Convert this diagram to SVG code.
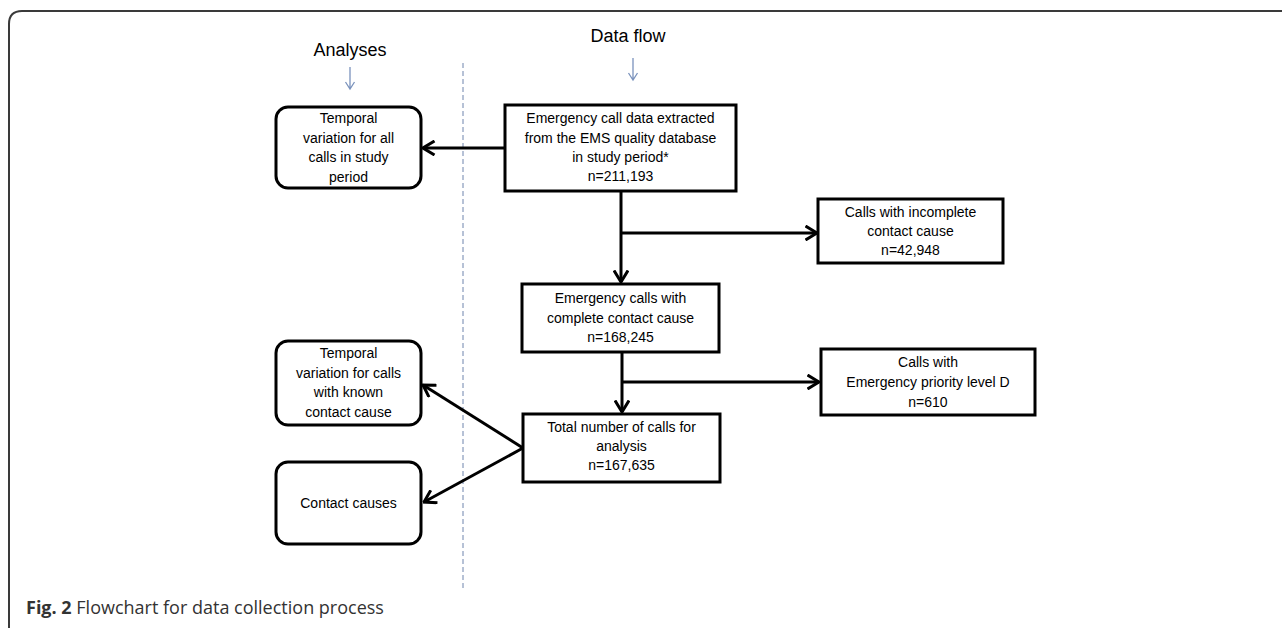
<svg xmlns="http://www.w3.org/2000/svg" width="1282" height="628" viewBox="0 0 1282 628">
<defs>
<style>
.box{fill:#fff;stroke:#000;stroke-width:3}
.t{font-family:"Liberation Sans",Arial,sans-serif;font-size:14px;fill:#000;text-anchor:middle}
.h{font-family:"Liberation Sans",Arial,sans-serif;font-size:18px;fill:#000;text-anchor:middle}
.c{fill:none;stroke:#000;stroke-width:3}
.sa{fill:none;stroke:#7b93bd;stroke-width:1.3}
.cap{font-family:"Open Sans","Liberation Sans",sans-serif;font-size:18px;fill:#333}
</style>
<marker id="arr" viewBox="0 0 14 16" refX="12.5" refY="8" markerWidth="14" markerHeight="16" markerUnits="userSpaceOnUse" orient="auto">
<path d="M1,1 L12.5,8 L1,15" fill="none" stroke="#000" stroke-width="3"/>
</marker>
</defs>
<rect width="1282" height="628" fill="#fff"/>
<g id="frame">
<path d="M9,628 L9,24 Q9,11 22,11 L1282,11" fill="none" stroke="#3a3a3a" stroke-width="2"/>
</g>
<g id="headers">
<text class="h" x="350" y="56">Analyses</text>
<text class="h" x="628" y="42">Data flow</text>
<path class="sa" d="M350,67 L350,89 M345.5,82 L350,89 L354.5,82"/>
<path class="sa" d="M633,58 L633,80 M628.5,73 L633,80 L637.5,73"/>
<line x1="463" y1="63" x2="463" y2="588" stroke="#6f84ad" stroke-width="1" stroke-dasharray="5,3"/>
</g>
<g id="connectors">
<line class="c" x1="505" y1="148" x2="423" y2="148" marker-end="url(#arr)"/>
<line class="c" x1="621" y1="192" x2="621" y2="282" marker-end="url(#arr)"/>
<line class="c" x1="621" y1="233" x2="817" y2="233" marker-end="url(#arr)"/>
<line class="c" x1="622" y1="352" x2="622" y2="412" marker-end="url(#arr)"/>
<line class="c" x1="622" y1="382" x2="819" y2="382" marker-end="url(#arr)"/>
<line class="c" x1="523" y1="448" x2="423" y2="385" marker-end="url(#arr)"/>
<line class="c" x1="523" y1="448" x2="424" y2="502" marker-end="url(#arr)"/>
</g>
<g id="n1">
<rect class="box" x="276" y="107" width="145" height="81" rx="12"/>
<text class="t" x="348.5" y="123">Temporal</text>
<text class="t" x="348.5" y="143">variation for all</text>
<text class="t" x="348.5" y="162">calls in study</text>
<text class="t" x="348.5" y="182">period</text>
</g>
<g id="n2">
<rect class="box" x="505" y="105" width="231" height="86"/>
<text class="t" x="620.5" y="123">Emergency call data extracted</text>
<text class="t" x="620.5" y="143">from the EMS quality database</text>
<text class="t" x="620.5" y="162">in study period*</text>
<text class="t" x="620.5" y="181">n=211,193</text>
</g>
<g id="n3">
<rect class="box" x="818" y="199" width="185" height="64"/>
<text class="t" x="910.5" y="217">Calls with incomplete</text>
<text class="t" x="910.5" y="236">contact cause</text>
<text class="t" x="910.5" y="255">n=42,948</text>
</g>
<g id="n4">
<rect class="box" x="522" y="284" width="197" height="68"/>
<text class="t" x="620.5" y="303">Emergency calls with</text>
<text class="t" x="620.5" y="323">complete contact cause</text>
<text class="t" x="620.5" y="342">n=168,245</text>
</g>
<g id="n5">
<rect class="box" x="821" y="349" width="214" height="66"/>
<text class="t" x="928" y="367">Calls with</text>
<text class="t" x="928" y="387">Emergency priority level D</text>
<text class="t" x="928" y="407">n=610</text>
</g>
<g id="n6">
<rect class="box" x="523" y="414" width="197" height="68"/>
<text class="t" x="621.5" y="432">Total number of calls for</text>
<text class="t" x="621.5" y="451">analysis</text>
<text class="t" x="621.5" y="470">n=167,635</text>
</g>
<g id="n7">
<rect class="box" x="276" y="341" width="145" height="84" rx="12"/>
<text class="t" x="348.5" y="358">Temporal</text>
<text class="t" x="348.5" y="378">variation for calls</text>
<text class="t" x="348.5" y="397">with known</text>
<text class="t" x="348.5" y="417">contact cause</text>
</g>
<g id="n8">
<rect class="box" x="276" y="462" width="145" height="82" rx="12"/>
<text class="t" x="348.5" y="508">Contact causes</text>
</g>
<g id="caption">
<text class="cap" x="26" y="614"><tspan font-weight="bold">Fig. 2</tspan> Flowchart for data collection process</text>
</g>
</svg>
